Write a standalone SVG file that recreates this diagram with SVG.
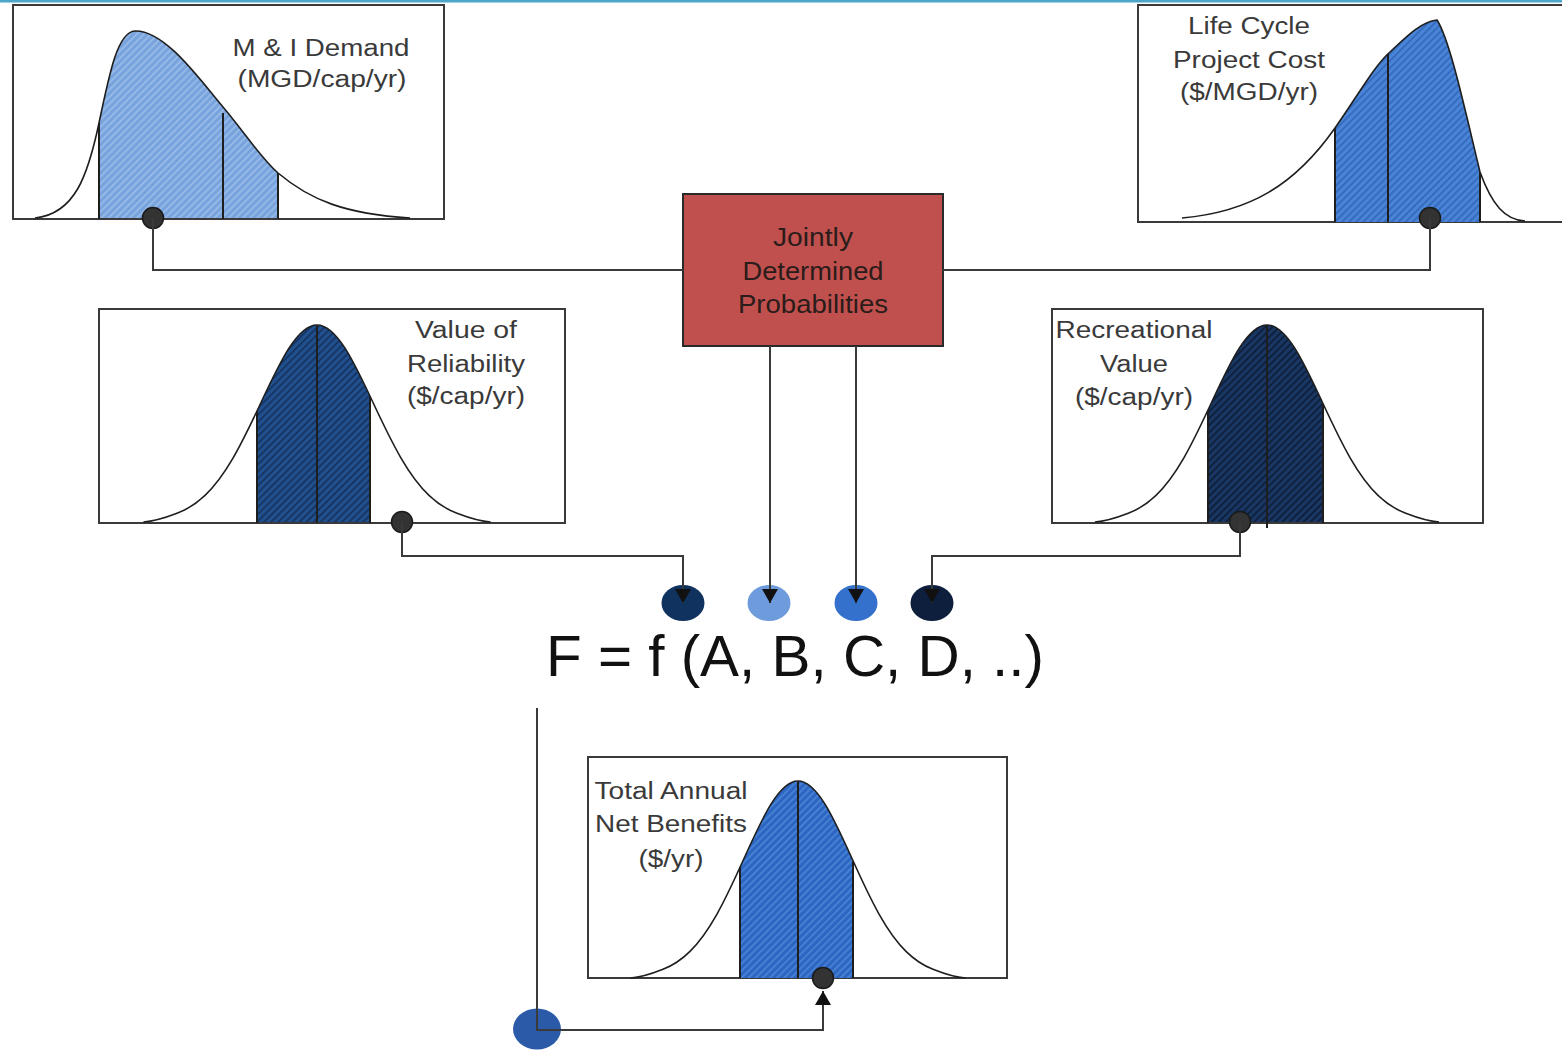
<svg xmlns="http://www.w3.org/2000/svg" xmlns:xlink="http://www.w3.org/1999/xlink" width="1562" height="1050" viewBox="0 0 1562 1050">
  <style>
    .frame{fill:#fff;stroke:#3a3a3a;stroke-width:2}
    .curve{fill:none;stroke:#1e1e1e;stroke-width:1.6}
    .edge{stroke:#1e1e1e;stroke-width:2}
    .label{font-family:"Liberation Sans",Arial,sans-serif;font-size:23px;fill:#3a3a3a;text-anchor:middle}
    .dot{fill:#333;stroke:#1a1a1a;stroke-width:1.5}
    .wire{fill:none;stroke:#3a3a3a;stroke-width:2}
    .formula{font-family:"Liberation Sans",Arial,sans-serif;font-size:58px;fill:#111}
    .boxtext{font-family:"Liberation Sans",Arial,sans-serif;font-size:26px;fill:#2a1c1a;text-anchor:middle}
  </style>
  <defs>
    <!-- diagonal hatch fills for the shaded probability bands -->
    <pattern id="hatch-light" width="5" height="5" patternUnits="userSpaceOnUse" patternTransform="rotate(45)">
      <rect width="5" height="5" fill="#78a3dd"/>
      <rect width="1.6" height="5" fill="#9bbde9"/>
    </pattern>
    <pattern id="hatch-mid" width="5" height="5" patternUnits="userSpaceOnUse" patternTransform="rotate(45)">
      <rect width="5" height="5" fill="#4a84d6"/>
      <rect width="1.6" height="5" fill="#3166b8"/>
    </pattern>
    <pattern id="hatch-navy" width="5" height="5" patternUnits="userSpaceOnUse" patternTransform="rotate(45)">
      <rect width="5" height="5" fill="#21508f"/>
      <rect width="1.6" height="5" fill="#14305c"/>
    </pattern>
    <pattern id="hatch-dark" width="5" height="5" patternUnits="userSpaceOnUse" patternTransform="rotate(45)">
      <rect width="5" height="5" fill="#1a3764"/>
      <rect width="1.6" height="5" fill="#0b1c36"/>
    </pattern>
    <pattern id="hatch-total" width="5" height="5" patternUnits="userSpaceOnUse" patternTransform="rotate(45)">
      <rect width="5" height="5" fill="#2c66c2"/>
      <rect width="1.6" height="5" fill="#4b86d6"/>
    </pattern>

    <!-- unit normal curve (sigma = 1, height = 1) -->
    <path id="bell" fill="none" vector-effect="non-scaling-stroke" d="M-3.1,0 C-2.9,-0.003 -2.7,-0.022 -2.5,-0.0439 C-2.3333,-0.0622 -2.1667,-0.0901 -2,-0.1353 C-1.8333,-0.1805 -1.6667,-0.2435 -1.5,-0.3247 C-1.3333,-0.4059 -1.1667,-0.5054 -1,-0.6065 C-0.8333,-0.7076 -0.6667,-0.809 -0.5,-0.8825 C-0.3333,-0.956 -0.1667,-1 0,-1 C0.1667,-1 0.3333,-0.956 0.5,-0.8825 C0.6667,-0.809 0.8333,-0.7076 1,-0.6065 C1.1667,-0.5054 1.3333,-0.4059 1.5,-0.3247 C1.6667,-0.2435 1.8333,-0.1805 2,-0.1353 C2.1667,-0.0901 2.3333,-0.0622 2.5,-0.0439 C2.7,-0.022 2.9,-0.003 3.1,0"/>
    <path id="bellArea" d="M-3.1,0 C-2.9,-0.003 -2.7,-0.022 -2.5,-0.0439 C-2.3333,-0.0622 -2.1667,-0.0901 -2,-0.1353 C-1.8333,-0.1805 -1.6667,-0.2435 -1.5,-0.3247 C-1.3333,-0.4059 -1.1667,-0.5054 -1,-0.6065 C-0.8333,-0.7076 -0.6667,-0.809 -0.5,-0.8825 C-0.3333,-0.956 -0.1667,-1 0,-1 C0.1667,-1 0.3333,-0.956 0.5,-0.8825 C0.6667,-0.809 0.8333,-0.7076 1,-0.6065 C1.1667,-0.5054 1.3333,-0.4059 1.5,-0.3247 C1.6667,-0.2435 1.8333,-0.1805 2,-0.1353 C2.1667,-0.0901 2.3333,-0.0622 2.5,-0.0439 C2.7,-0.022 2.9,-0.003 3.1,0 Z"/>

    <!-- skewed curves -->
    <path id="demandCurve" d="M35,218 C75,214 88,175 99,123 C110,70 118,32 135,31 C165,30 200,80 223,107 C245,133 260,157 278,173 C310,200 345,214 410,218"/>
    <path id="costCurve" d="M1182,218 C1250,212 1295,185 1335,128 C1360,92 1375,65 1390,52 C1405,38 1420,22 1437,20 C1450,40 1465,110 1480,172 C1492,205 1505,220 1525,221"/>

    <clipPath id="clip-demand"><path d="M35,218 C75,214 88,175 99,123 C110,70 118,32 135,31 C165,30 200,80 223,107 C245,133 260,157 278,173 C310,200 345,214 410,218 Z"/></clipPath>
    <clipPath id="clip-cost"><path d="M1182,218 C1250,212 1295,185 1335,128 C1360,92 1375,65 1390,52 C1405,38 1420,22 1437,20 C1450,40 1465,110 1480,172 C1492,205 1505,220 1525,221 L1525,222 L1182,222 Z"/></clipPath>
    <clipPath id="clip-reliability"><use xlink:href="#bellArea" transform="translate(317,522) scale(56,197)"/></clipPath>
    <clipPath id="clip-recreation"><use xlink:href="#bellArea" transform="translate(1267,522) scale(55.5,197)"/></clipPath>
    <clipPath id="clip-total"><use xlink:href="#bellArea" transform="translate(798,978) scale(54,197)"/></clipPath>

    <marker id="arrow" viewBox="0 0 14 16" refX="14" refY="8" markerWidth="14" markerHeight="16" markerUnits="userSpaceOnUse" orient="auto">
      <path d="M0,0 L14,8 L0,16 Z" fill="#111"/>
    </marker>
  </defs>

  <!-- page rule along the top edge -->
  <rect x="0" y="0" width="1562" height="2.5" fill="#4ba6c9"/>

  <!-- input distribution: M & I demand -->
  <g id="node-demand">
    <rect class="frame" x="13" y="5" width="431" height="214"/>
    <rect x="99" y="20" width="179" height="199" fill="url(#hatch-light)" clip-path="url(#clip-demand)"/>
    <use xlink:href="#demandCurve" class="curve"/>
    <line class="edge" x1="99" y1="123" x2="99" y2="219"/>
    <line class="edge" x1="278" y1="173" x2="278" y2="219"/>
    <line class="edge" x1="223" y1="113" x2="223" y2="219" stroke="#444"/>
    <text class="label" x="321" y="56" textLength="177" lengthAdjust="spacingAndGlyphs">M &amp; I Demand</text>
    <text class="label" x="322" y="87" textLength="169" lengthAdjust="spacingAndGlyphs">(MGD/cap/yr)</text>
    <circle class="dot" cx="153" cy="218" r="10.5"/>
  </g>

  <!-- input distribution: life cycle project cost -->
  <g id="node-cost">
    <rect class="frame" x="1138" y="5" width="440" height="217"/>
    <rect x="1335" y="15" width="145" height="207" fill="url(#hatch-mid)" clip-path="url(#clip-cost)"/>
    <use xlink:href="#costCurve" class="curve"/>
    <line class="edge" x1="1335" y1="128" x2="1335" y2="222"/>
    <line class="edge" x1="1480" y1="172" x2="1480" y2="222"/>
    <line class="edge" x1="1388" y1="54" x2="1388" y2="222"/>
    <text class="label" x="1249" y="34" textLength="122" lengthAdjust="spacingAndGlyphs">Life Cycle</text>
    <text class="label" x="1249" y="68" textLength="152" lengthAdjust="spacingAndGlyphs">Project Cost</text>
    <text class="label" x="1249" y="100" textLength="138" lengthAdjust="spacingAndGlyphs">($/MGD/yr)</text>
    <circle class="dot" cx="1430" cy="218" r="10.5"/>
  </g>

  <!-- joint probability engine -->
  <g id="node-joint">
    <rect x="683" y="194" width="260" height="152" fill="#c0504d" stroke="#2a2a2a" stroke-width="2"/>
    <text class="boxtext" x="813" y="246" textLength="80" lengthAdjust="spacingAndGlyphs">Jointly</text>
    <text class="boxtext" x="813" y="280" textLength="141" lengthAdjust="spacingAndGlyphs">Determined</text>
    <text class="boxtext" x="813" y="313" textLength="150" lengthAdjust="spacingAndGlyphs">Probabilities</text>
  </g>

  <!-- input distribution: value of reliability -->
  <g id="node-reliability">
    <rect class="frame" x="99" y="309" width="466" height="214"/>
    <rect x="257" y="315" width="113" height="207" fill="url(#hatch-navy)" clip-path="url(#clip-reliability)"/>
    <use xlink:href="#bell" class="curve" transform="translate(317,522) scale(56,197)"/>
    <line class="edge" x1="257" y1="411" x2="257" y2="523"/>
    <line class="edge" x1="370" y1="397" x2="370" y2="523"/>
    <line class="edge" x1="317" y1="326" x2="317" y2="523"/>
    <text class="label" x="466" y="338" textLength="102" lengthAdjust="spacingAndGlyphs">Value of</text>
    <text class="label" x="466" y="372" textLength="118" lengthAdjust="spacingAndGlyphs">Reliability</text>
    <text class="label" x="466" y="404" textLength="118" lengthAdjust="spacingAndGlyphs">($/cap/yr)</text>
    <circle class="dot" cx="402" cy="522" r="10.5"/>
  </g>

  <!-- input distribution: recreational value -->
  <g id="node-recreation">
    <rect class="frame" x="1052" y="309" width="431" height="214"/>
    <rect x="1208" y="315" width="115" height="207" fill="url(#hatch-dark)" clip-path="url(#clip-recreation)"/>
    <use xlink:href="#bell" class="curve" transform="translate(1267,522) scale(55.5,197)"/>
    <line class="edge" x1="1208" y1="410" x2="1208" y2="523"/>
    <line class="edge" x1="1323" y1="404" x2="1323" y2="523"/>
    <line class="edge" x1="1267" y1="326" x2="1267" y2="528"/>
    <text class="label" x="1134" y="338" textLength="157" lengthAdjust="spacingAndGlyphs">Recreational</text>
    <text class="label" x="1134" y="372" textLength="68" lengthAdjust="spacingAndGlyphs">Value</text>
    <text class="label" x="1134" y="405" textLength="118" lengthAdjust="spacingAndGlyphs">($/cap/yr)</text>
    <circle class="dot" cx="1240" cy="522" r="10.5"/>
  </g>

  <!-- sampled inputs feeding the benefit function -->
  <g id="node-inputs">
    <ellipse id="input-a" cx="683" cy="603" rx="21.5" ry="18" fill="#10325f"/>
    <ellipse id="input-b" cx="769" cy="603" rx="21.5" ry="18" fill="#6e9bdc"/>
    <ellipse id="input-c" cx="856" cy="603" rx="21.5" ry="18" fill="#3371cc"/>
    <ellipse id="input-d" cx="932" cy="603" rx="21.5" ry="18" fill="#0d1f3c"/>
  </g>

  <g id="node-function">
    <text class="formula" x="546" y="676" textLength="498" lengthAdjust="spacingAndGlyphs">F = f (A, B, C, D, ..)</text>
  </g>

  <!-- output distribution: total annual net benefits -->
  <g id="node-total">
    <rect class="frame" x="588" y="757" width="419" height="221"/>
    <rect x="740" y="770" width="113" height="208" fill="url(#hatch-total)" clip-path="url(#clip-total)"/>
    <use xlink:href="#bell" class="curve" transform="translate(798,978) scale(54,197)"/>
    <line class="edge" x1="740" y1="867" x2="740" y2="978"/>
    <line class="edge" x1="853" y1="861" x2="853" y2="978"/>
    <line class="edge" x1="798" y1="782" x2="798" y2="978"/>
    <text class="label" x="671" y="799" textLength="153" lengthAdjust="spacingAndGlyphs">Total Annual</text>
    <text class="label" x="671" y="832" textLength="152" lengthAdjust="spacingAndGlyphs">Net Benefits</text>
    <text class="label" x="671" y="867" textLength="65" lengthAdjust="spacingAndGlyphs">($/yr)</text>
    <circle class="dot" cx="823" cy="978" r="10.5"/>
  </g>

  <g id="node-result">
    <ellipse cx="537" cy="1029" rx="24" ry="20.5" fill="#2a5aa8"/>
  </g>

  <!-- connectors -->
  <g id="connectors">
    <polyline class="wire" points="153,218 153,270 683,270"/>
    <polyline class="wire" points="1430,218 1430,270 943,270"/>
    <polyline class="wire" points="402,522 402,556 683,556 683,603" marker-end="url(#arrow)"/>
    <polyline class="wire" points="1240,522 1240,556 932,556 932,603" marker-end="url(#arrow)"/>
    <line class="wire" x1="770" y1="346" x2="770" y2="603" marker-end="url(#arrow)"/>
    <line class="wire" x1="856" y1="346" x2="856" y2="603" marker-end="url(#arrow)"/>
    <polyline class="wire" points="537,708 537,1030 823,1030 823,991" marker-end="url(#arrow)"/>
  </g>
</svg>
